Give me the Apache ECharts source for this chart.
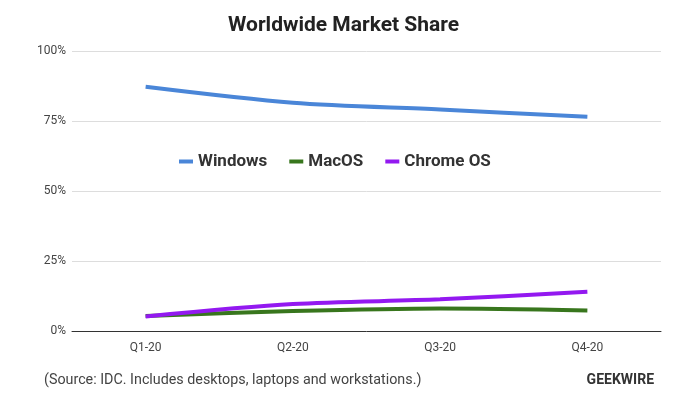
<!DOCTYPE html>
<html>
<head>
<meta charset="utf-8">
<script src="https://cdn.jsdelivr.net/npm/echarts@6/dist/echarts.min.js"></script>
<style>
  html, body { margin: 0; padding: 0; background: #fff; }
  #chart { width: 700px; height: 398px; }
</style>
</head>
<body>
<div id="chart"></div>
<script>
const quarters = ['Q1-20', 'Q2-20', 'Q3-20', 'Q4-20'];
const windowsShare = [87.2, 81.5, 79.1, 76.5];
const macShare = [5.4, 7.1, 8.0, 7.3];
const chromeShare = [5.2, 9.6, 11.3, 14.0];
const yTicks = [0, 25, 50, 75, 100];

const chart = echarts.init(document.getElementById('chart'));

const lineSeries = (name, data, color) => ({
    name: name,
    type: 'line',
    data: data,
    smooth: 0.3,
    symbol: 'none',
    lineStyle: { color: color, width: 4 },
    itemStyle: { color: color }
});

chart.setOption({
    backgroundColor: '#fff',
    textStyle: { fontFamily: 'Roboto' },
    title: {
        text: 'Worldwide Market Share',
        left: 223,
        top: 10,
        textStyle: { fontSize: 21, fontWeight: 'bold', color: '#222', fontFamily: 'Roboto' }
    },
    legend: {
        left: 174,
        top: 148,
        itemWidth: 14,
        itemHeight: 4,
        itemGap: 22,
        icon: 'rect',
        textStyle: { fontSize: 17, fontWeight: 'bold', color: '#333', fontFamily: 'Roboto' },
        data: ['Windows', 'MacOS', 'Chrome OS']
    },
    grid: { left: 72, right: 39, top: 51, bottom: 67 },
    xAxis: {
        type: 'category',
        data: quarters,
        boundaryGap: true,
        axisLine: { lineStyle: { color: '#333', width: 1 } },
        axisTick: { show: false },
        axisLabel: { color: '#444', fontSize: 12, margin: 11 }
    },
    yAxis: {
        type: 'value',
        min: yTicks[0],
        max: yTicks[yTicks.length - 1],
        interval: 25,
        axisLine: { show: false },
        axisTick: { show: false },
        splitLine: { lineStyle: { color: '#ddd' } },
        axisLabel: { color: '#444', fontSize: 12, margin: 6, formatter: '{value}%' }
    },
    series: [
        lineSeries('Windows', windowsShare, '#4a86d8'),
        lineSeries('MacOS', macShare, '#38761d'),
        lineSeries('Chrome OS', chromeShare, '#9319f0')
    ],
    graphic: [
        {
            type: 'text', left: 44, top: 373,
            style: { text: '(Source: IDC. Includes desktops, laptops and workstations.)', fill: '#444', font: '14.3px Roboto' }
        },
        {
            type: 'text', right: 46, top: 373,
            style: { text: 'GEEKWIRE', fill: '#333', font: 'bold 14px Roboto' }
        }
    ]
});
</script>
</body>
</html>
